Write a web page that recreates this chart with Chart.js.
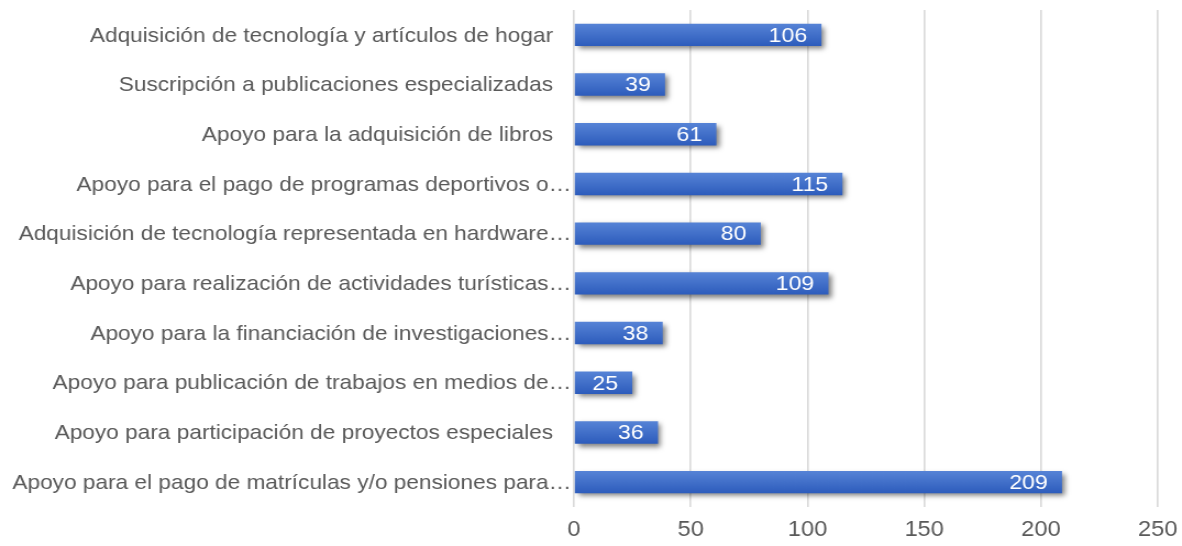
<!DOCTYPE html>
<html>
<head>
<meta charset="utf-8">
<script src="https://cdn.jsdelivr.net/npm/chart.js@4/dist/chart.umd.min.js"></script>
<style>
  html, body { margin: 0; padding: 0; background: #fff; overflow: hidden; }
  /* the original picture is a bit wider than tall, so draw narrow and stretch */
  #wrap { width: 1075px; height: 546px; position: relative; transform: scaleX(1.0995); transform-origin: 0 0; }
</style>
</head>
<body>
<div id="wrap"><canvas id="bar-chart"></canvas></div>
<script>
// categories as shown on the axis (long ones are cut off in the original)
var categories = [
    "Adquisición de tecnología y artículos de hogar",
    "Suscripción a publicaciones especializadas",
    "Apoyo para la adquisición de libros",
    "Apoyo para el pago de programas deportivos o…",
    "Adquisición de tecnología representada en hardware…",
    "Apoyo para realización de actividades turísticas…",
    "Apoyo para la financiación de investigaciones…",
    "Apoyo para publicación de trabajos en medios de…",
    "Apoyo para participación de proyectos especiales",
    "Apoyo para el pago de matrículas y/o pensiones para…"
];
var values = [106, 39, 61, 115, 80, 109, 38, 25, 36, 209];
var xTicks = [0, 50, 100, 150, 200, 250];

var FONT = '"Liberation Sans", Arial, sans-serif';
var ctx = document.getElementById("bar-chart").getContext("2d");

// bar gradient, lighter on top
function barGradient(context) {
    var chart = context.chart;
    var yScale = chart.scales && chart.scales.y;
    if (!chart.chartArea || !yScale || context.dataIndex === undefined) return '#3A68C8';
    var cy = yScale.getPixelForValue(context.dataIndex);
    if (!isFinite(cy)) return '#3A68C8';
    var g = chart.ctx.createLinearGradient(0, cy - 11, 0, cy + 11);
    g.addColorStop(0, '#5683D6');
    g.addColorStop(1, '#2D5CBC');
    return g;
}

// soft shadow under bars
const barShadow = {
    id: 'barShadow',
    beforeDatasetsDraw(chart) {
        const c = chart.ctx;
        c.save();
        c.shadowColor = 'rgba(0,0,0,0.5)';
        c.shadowBlur = 5;
        c.shadowOffsetX = 3;
        c.shadowOffsetY = 3;
    },
    afterDatasetsDraw(chart) {
        chart.ctx.restore();
    }
};

// value labels inside the bar end
const barValues = {
    id: 'barValues',
    afterDatasetsDraw(chart) {
        const c = chart.ctx;
        c.save();
        c.font = '21px ' + FONT;
        c.fillStyle = '#ffffff';
        c.textAlign = 'right';
        c.textBaseline = 'middle';
        chart.getDatasetMeta(0).data.forEach(function(bar, i) {
            c.fillText(String(values[i]), bar.x - 13, bar.y + 1);
        });
        c.restore();
    }
};

// category labels: cut-off ones reach the axis, whole ones stop a bit earlier
const categoryLabels = {
    id: 'categoryLabels',
    afterDraw(chart) {
        const c = chart.ctx;
        const yScale = chart.scales.y;
        const left = chart.chartArea.left;
        c.save();
        c.font = '20.6px ' + FONT;
        c.fillStyle = '#595959';
        c.textAlign = 'right';
        c.textBaseline = 'middle';
        categories.forEach(function(label, i) {
            const y = yScale.getPixelForTick(i);
            const cut = label.slice(-1) === '…';
            c.fillText(label, left - (cut ? 2.5 : 19), y + 1);
        });
        c.restore();
    }
};

new Chart(ctx, {
    type: 'bar',
    data: {
        labels: categories,
        datasets: [{
            data: values,
            backgroundColor: barGradient,
            borderWidth: 0,
            categoryPercentage: 1,
            barPercentage: 0.45
        }]
    },
    options: {
        indexAxis: 'y',
        responsive: true,
        maintainAspectRatio: false,
        animation: false,
        layout: { padding: { top: 10, right: 22, bottom: 0, left: 0 } },
        plugins: {
            legend: { display: false },
            tooltip: { enabled: false }
        },
        scales: {
            x: {
                min: 0,
                max: 250,
                afterBuildTicks: function(axis) {
                    axis.ticks = xTicks.map(function(v) { return { value: v }; });
                },
                afterFit: function(axis) {
                    axis.height = 39;
                    axis.paddingLeft = 0;
                    axis.paddingRight = 0;
                },
                grid: { color: '#d9d9d9', lineWidth: 1.6, drawTicks: false },
                border: { display: false },
                ticks: {
                    color: '#595959',
                    padding: 10,
                    font: { size: 21.5, family: FONT }
                }
            },
            y: {
                afterFit: function(axis) { axis.width = 522; },
                grid: { display: false, drawTicks: false },
                border: { display: false },
                ticks: { display: false }
            }
        }
    },
    plugins: [barShadow, barValues, categoryLabels]
});
</script>
</body>
</html>
